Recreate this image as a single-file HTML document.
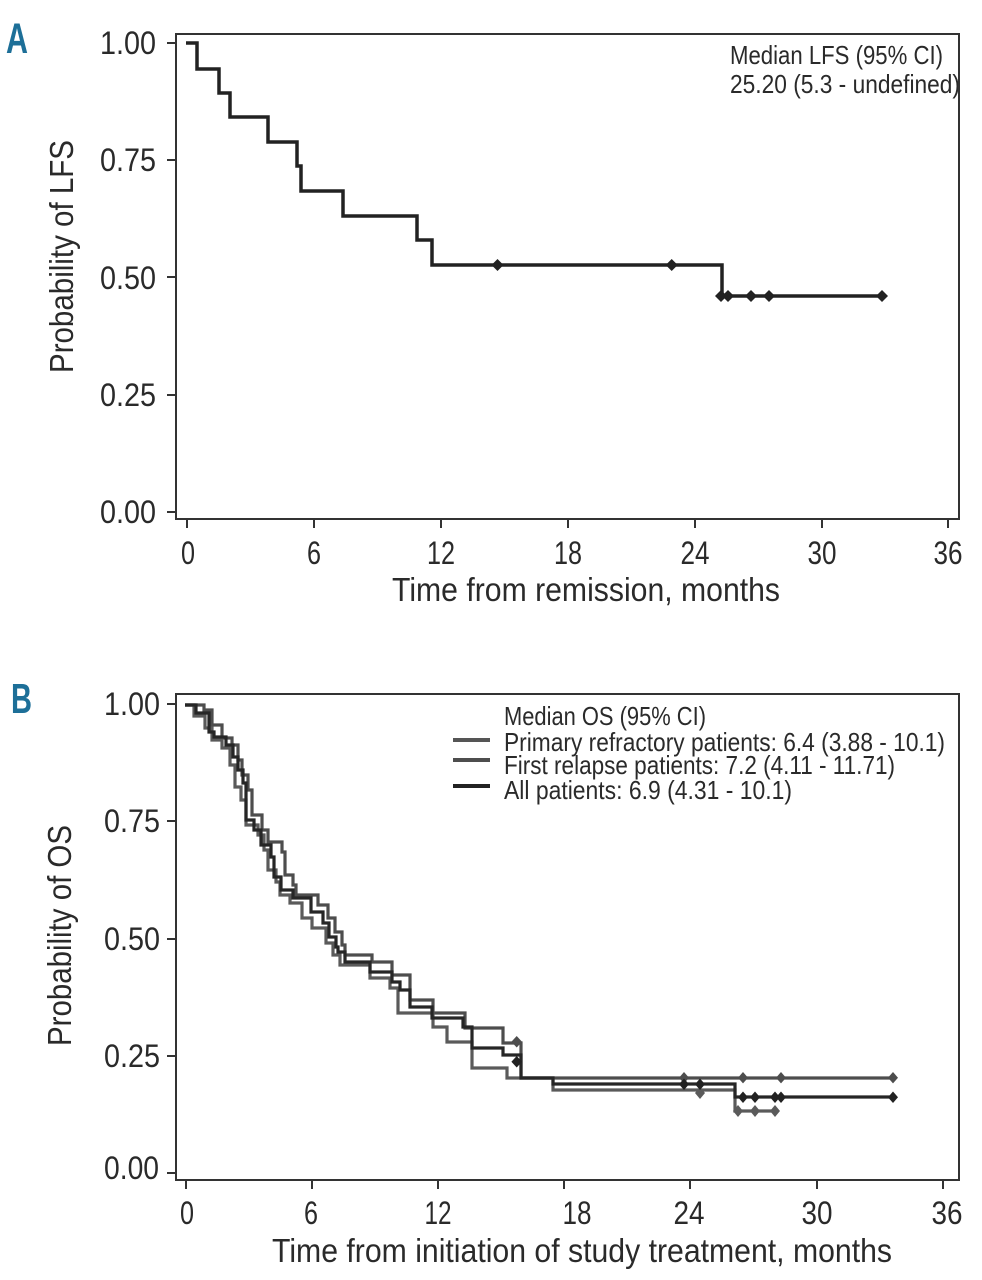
<!DOCTYPE html>
<html>
<head>
<meta charset="utf-8">
<style>
html,body{margin:0;padding:0;background:#fff;}
svg{display:block;}
text{font-family:"Liberation Sans",Arial,sans-serif;fill:#2a2a2a;}
</style>
</head>
<body>
<svg width="982" height="1280" viewBox="0 0 982 1280" xmlns="http://www.w3.org/2000/svg">
<rect x="0" y="0" width="982" height="1280" fill="#fff"/>

<!-- ============ PANEL A ============ -->
<text x="6" y="53" font-size="43" font-weight="bold" textLength="22" lengthAdjust="spacingAndGlyphs" style="fill:#1d6f98">A</text>

<g stroke="#333" stroke-width="2">
<line x1="167" y1="43" x2="176" y2="43"/>
<line x1="167" y1="160" x2="176" y2="160"/>
<line x1="167" y1="277" x2="176" y2="277"/>
<line x1="167" y1="395" x2="176" y2="395"/>
<line x1="167" y1="512" x2="176" y2="512"/>
</g>
<g font-size="32">
<text x="100" y="54" textLength="56" lengthAdjust="spacingAndGlyphs">1.00</text>
<text x="100" y="171" textLength="56" lengthAdjust="spacingAndGlyphs">0.75</text>
<text x="100" y="289" textLength="56" lengthAdjust="spacingAndGlyphs">0.50</text>
<text x="100" y="406" textLength="56" lengthAdjust="spacingAndGlyphs">0.25</text>
<text x="100" y="523" textLength="56" lengthAdjust="spacingAndGlyphs">0.00</text>
</g>
<g stroke="#333" stroke-width="2">
<line x1="187" y1="519" x2="187" y2="528"/>
<line x1="314" y1="519" x2="314" y2="528"/>
<line x1="441" y1="519" x2="441" y2="528"/>
<line x1="568" y1="519" x2="568" y2="528"/>
<line x1="695" y1="519" x2="695" y2="528"/>
<line x1="822" y1="519" x2="822" y2="528"/>
<line x1="948" y1="519" x2="948" y2="528"/>
</g>
<g font-size="32" text-anchor="middle">
<text x="188" y="564" textLength="14" lengthAdjust="spacingAndGlyphs">0</text>
<text x="314" y="564" textLength="14" lengthAdjust="spacingAndGlyphs">6</text>
<text x="441" y="564" textLength="28" lengthAdjust="spacingAndGlyphs">12</text>
<text x="568" y="564" textLength="28" lengthAdjust="spacingAndGlyphs">18</text>
<text x="695" y="564" textLength="29" lengthAdjust="spacingAndGlyphs">24</text>
<text x="822" y="564" textLength="29" lengthAdjust="spacingAndGlyphs">30</text>
<text x="948" y="564" textLength="29" lengthAdjust="spacingAndGlyphs">36</text>
</g>
<text x="392" y="601" font-size="33" textLength="388" lengthAdjust="spacingAndGlyphs">Time from remission, months</text>
<text transform="translate(73,373) rotate(-90)" font-size="33" textLength="233" lengthAdjust="spacingAndGlyphs">Probability of LFS</text>

<text x="730" y="64" font-size="26" textLength="213" lengthAdjust="spacingAndGlyphs">Median LFS (95% CI)</text>
<text x="730" y="93" font-size="26" textLength="230" lengthAdjust="spacingAndGlyphs">25.20 (5.3 - undefined)</text>

<path d="M186,43 H197 V69 H219 V93 H230 V117 H268 V142 H297 V166 H301 V191 H343 V216 H417 V240 H432 V265 H722 V296 H882" fill="none" stroke="#222" stroke-width="3.5"/>
<g fill="#222">
<path d="M497.5,259 L503.5,265 L497.5,271 L491.5,265 Z"/>
<path d="M671.7,259 L677.7,265 L671.7,271 L665.7,265 Z"/>
<path d="M721,290 L727,296 L721,302 L715,296 Z"/>
<path d="M728,290 L734,296 L728,302 L722,296 Z"/>
<path d="M751,290 L757,296 L751,302 L745,296 Z"/>
<path d="M769,290 L775,296 L769,302 L763,296 Z"/>
<path d="M882,290 L888,296 L882,302 L876,296 Z"/>
</g>

<rect x="176" y="34" width="783" height="485" fill="none" stroke="#333" stroke-width="2"/>

<!-- ============ PANEL B ============ -->
<text x="11" y="713" font-size="42" font-weight="bold" textLength="21" lengthAdjust="spacingAndGlyphs" style="fill:#1d6f98">B</text>

<g stroke="#333" stroke-width="2">
<line x1="167" y1="704" x2="176" y2="704"/>
<line x1="167" y1="821" x2="176" y2="821"/>
<line x1="167" y1="939" x2="176" y2="939"/>
<line x1="167" y1="1056" x2="176" y2="1056"/>
<line x1="167" y1="1173" x2="176" y2="1173"/>
</g>
<g font-size="32">
<text x="104" y="715" textLength="56" lengthAdjust="spacingAndGlyphs">1.00</text>
<text x="104" y="832" textLength="56" lengthAdjust="spacingAndGlyphs">0.75</text>
<text x="104" y="950" textLength="56" lengthAdjust="spacingAndGlyphs">0.50</text>
<text x="104" y="1067" textLength="56" lengthAdjust="spacingAndGlyphs">0.25</text>
<text x="104" y="1179" textLength="55" lengthAdjust="spacingAndGlyphs">0.00</text>
</g>
<g stroke="#333" stroke-width="2">
<line x1="186" y1="1180" x2="186" y2="1189"/>
<line x1="312" y1="1180" x2="312" y2="1189"/>
<line x1="438" y1="1180" x2="438" y2="1189"/>
<line x1="564" y1="1180" x2="564" y2="1189"/>
<line x1="690" y1="1180" x2="690" y2="1189"/>
<line x1="817" y1="1180" x2="817" y2="1189"/>
<line x1="943" y1="1180" x2="943" y2="1189"/>
</g>
<g font-size="32" text-anchor="middle">
<text x="187" y="1224" textLength="14" lengthAdjust="spacingAndGlyphs">0</text>
<text x="311" y="1224" textLength="14" lengthAdjust="spacingAndGlyphs">6</text>
<text x="438" y="1224" textLength="27" lengthAdjust="spacingAndGlyphs">12</text>
<text x="577" y="1224" textLength="29" lengthAdjust="spacingAndGlyphs">18</text>
<text x="689" y="1224" textLength="31" lengthAdjust="spacingAndGlyphs">24</text>
<text x="817" y="1224" textLength="31" lengthAdjust="spacingAndGlyphs">30</text>
<text x="947" y="1224" textLength="31" lengthAdjust="spacingAndGlyphs">36</text>
</g>
<text x="272" y="1262" font-size="33" textLength="620" lengthAdjust="spacingAndGlyphs">Time from initiation of study treatment, months</text>
<text transform="translate(71,1046) rotate(-90)" font-size="33" textLength="221" lengthAdjust="spacingAndGlyphs">Probability of OS</text>

<text x="504" y="725" font-size="26" textLength="202" lengthAdjust="spacingAndGlyphs">Median OS (95% CI)</text>
<text x="504" y="751" font-size="26" textLength="441" lengthAdjust="spacingAndGlyphs">Primary refractory patients: 6.4 (3.88 - 10.1)</text>
<text x="504" y="774" font-size="26" textLength="391" lengthAdjust="spacingAndGlyphs">First relapse patients: 7.2 (4.11 - 11.71)</text>
<text x="504" y="799" font-size="26" textLength="288" lengthAdjust="spacingAndGlyphs">All patients: 6.9 (4.31 - 10.1)</text>
<line x1="453" y1="740" x2="490" y2="740" stroke="#555" stroke-width="4"/>
<line x1="453" y1="760" x2="490" y2="760" stroke="#4d4d4d" stroke-width="4"/>
<line x1="453" y1="786" x2="490" y2="786" stroke="#222" stroke-width="4"/>

<path d="M185,705 H204 V710 H212 V725 H222 V738 H232 V745 H238 V760 H242 V775 H248 V790 H252 V815 H262 V830 H268 V842 H282 V852 H285 V875 H293 V885 H296 V895 H318 V905 H328 V918 H335 V932 H342 V945 H345 V955 H372 V962 H392 V975 H410 V1000 H433 V1013 H465 V1028 H503 V1043 H521 V1078 H893" fill="none" stroke="#4d4d4d" stroke-width="3.2"/>
<path d="M185,705 H194 V716 H205 V728 H212 V740 H222 V748 H230 V765 H235 V787 H241 V800 H246 V825 H258 V835 H264 V850 H268 V870 H276 V882 H280 V895 H290 V903 H302 V918 H312 V928 H326 V943 H333 V955 H340 V965 H370 V978 H390 V988 H398 V1013 H433 V1027 H447 V1042 H472 V1068 H507 V1078 H553 V1090 H735 V1111 H775" fill="none" stroke="#5a5a5a" stroke-width="3.2"/>
<path d="M185,705 H196 V713 H209 V732 H214 V737 H226 V745 H233 V757 H238 V770 H243 V783 H246 V820 H254 V830 H261 V845 H271 V857 H274 V877 H281 V890 H293 V898 H311 V912 H323 V923 H329 V937 H336 V947 H338 V952 H345 V962 H370 V972 H392 V982 H400 V990 H410 V1007 H432 V1018 H463 V1027 H472 V1048 H503 V1055 H516 H521 V1078 H553 V1084 H735 V1097 H893" fill="none" stroke="#262626" stroke-width="3.2"/>

<g fill="#4d4d4d">
<path d="M516.7,1036 L522,1041.7 L516.7,1047.5 L511.4,1041.7 Z"/>
<path d="M684,1072 L689,1077.7 L684,1083.4 L679,1077.7 Z"/>
<path d="M743,1072 L748,1077.7 L743,1083.4 L738,1077.7 Z"/>
<path d="M781,1072 L786,1077.7 L781,1083.4 L776,1077.7 Z"/>
<path d="M893,1072 L898,1077.7 L893,1083.4 L888,1077.7 Z"/>
</g>
<g fill="#5a5a5a">
<path d="M700,1087 L705,1093 L700,1099 L695,1093 Z"/>
<path d="M738,1105 L743,1111 L738,1117 L733,1111 Z"/>
<path d="M755,1105 L760,1111 L755,1117 L750,1111 Z"/>
<path d="M775,1105 L780,1111 L775,1117 L770,1111 Z"/>
</g>
<g fill="#222">
<path d="M516.7,1056 L522,1061.7 L516.7,1067.5 L511.4,1061.7 Z"/>
<path d="M684,1078.5 L689,1084.3 L684,1090 L679,1084.3 Z"/>
<path d="M700,1078.5 L705,1084.3 L700,1090 L695,1084.3 Z"/>
<path d="M743,1091.5 L748,1097.3 L743,1103 L738,1097.3 Z"/>
<path d="M755,1091.5 L760,1097.3 L755,1103 L750,1097.3 Z"/>
<path d="M775,1091.5 L780,1097.3 L775,1103 L770,1097.3 Z"/>
<path d="M781,1091.5 L786,1097.3 L781,1103 L776,1097.3 Z"/>
<path d="M893,1091.5 L898,1097.3 L893,1103 L888,1097.3 Z"/>
</g>

<rect x="176" y="694" width="783" height="486" fill="none" stroke="#333" stroke-width="2"/>
</svg>
</body>
</html>
